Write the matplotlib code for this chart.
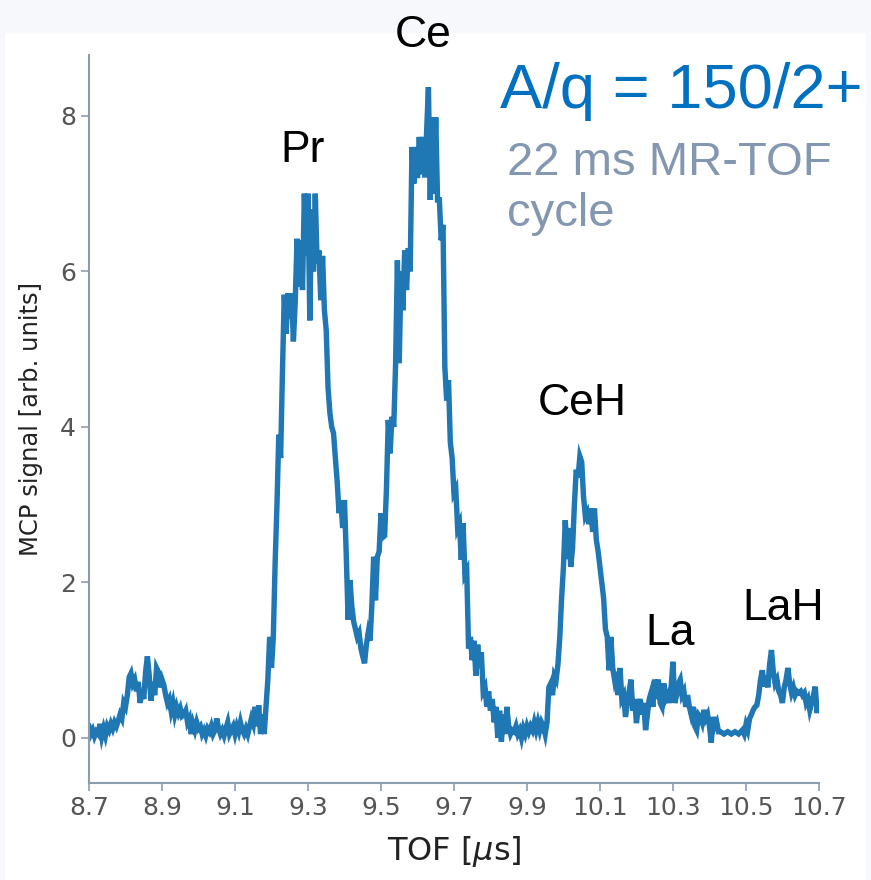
import numpy as np
import matplotlib
matplotlib.use("Agg")
from matplotlib import pyplot as plt
from matplotlib.patches import Rectangle

# TOF in microseconds and MCP signal
tof = [
    8.700, 8.705, 8.710, 8.715, 8.720, 8.725, 8.730, 8.735, 8.740, 8.745,
    8.750, 8.755, 8.760, 8.765, 8.770, 8.775, 8.780, 8.785, 8.790, 8.795,
    8.800, 8.805, 8.810, 8.815, 8.820, 8.825, 8.830, 8.835, 8.840, 8.845,
    8.850, 8.855, 8.860, 8.865, 8.870, 8.875, 8.880, 8.885, 8.890, 8.895,
    8.900, 8.905, 8.910, 8.915, 8.920, 8.925, 8.930, 8.935, 8.940, 8.945,
    8.950, 8.955, 8.960, 8.965, 8.970, 8.975, 8.980, 8.985, 8.990, 8.995,
    9.000, 9.005, 9.010, 9.015, 9.020, 9.025, 9.030, 9.035, 9.040, 9.045,
    9.050, 9.055, 9.060, 9.065, 9.070, 9.075, 9.080, 9.085, 9.090, 9.095,
    9.100, 9.105, 9.110, 9.115, 9.120, 9.125, 9.130, 9.135, 9.140, 9.145,
    9.150, 9.155, 9.160, 9.165, 9.170, 9.175, 9.180, 9.185, 9.190, 9.195,
    9.200, 9.205, 9.210, 9.215, 9.220, 9.225, 9.230, 9.235, 9.240, 9.245,
    9.250, 9.255, 9.260, 9.265, 9.270, 9.275, 9.280, 9.285, 9.290, 9.295,
    9.300, 9.305, 9.310, 9.315, 9.320, 9.325, 9.330, 9.335, 9.340, 9.345,
    9.350, 9.355, 9.360, 9.365, 9.370, 9.375, 9.380, 9.385, 9.390, 9.395,
    9.400, 9.405, 9.410, 9.415, 9.420, 9.425, 9.430, 9.435, 9.440, 9.445,
    9.450, 9.455, 9.460, 9.465, 9.470, 9.475, 9.480, 9.485, 9.490, 9.495,
    9.500, 9.505, 9.510, 9.515, 9.520, 9.525, 9.530, 9.535, 9.540, 9.545,
    9.550, 9.555, 9.560, 9.565, 9.570, 9.575, 9.580, 9.585, 9.590, 9.595,
    9.600, 9.605, 9.610, 9.615, 9.620, 9.625, 9.630, 9.635, 9.640, 9.645,
    9.650, 9.655, 9.660, 9.665, 9.670, 9.675, 9.680, 9.685, 9.690, 9.695,
    9.700, 9.705, 9.710, 9.715, 9.720, 9.725, 9.730, 9.735, 9.740, 9.745,
    9.750, 9.755, 9.760, 9.765, 9.770, 9.775, 9.780, 9.785, 9.790, 9.795,
    9.800, 9.805, 9.810, 9.815, 9.820, 9.825, 9.830, 9.835, 9.840, 9.845,
    9.850, 9.855, 9.860, 9.865, 9.870, 9.875, 9.880, 9.885, 9.890, 9.895,
    9.900, 9.905, 9.910, 9.915, 9.920, 9.925, 9.930, 9.935, 9.940, 9.945,
    9.950, 9.955, 9.960, 9.965, 9.970, 9.975, 9.980, 9.985, 9.990, 9.995,
    10.000, 10.005, 10.010, 10.015, 10.020, 10.025, 10.030, 10.035, 10.040, 10.045,
    10.050, 10.055, 10.060, 10.065, 10.070, 10.075, 10.080, 10.085, 10.090, 10.095,
    10.100, 10.105, 10.110, 10.115, 10.120, 10.125, 10.130, 10.135, 10.140, 10.145,
    10.150, 10.155, 10.160, 10.165, 10.170, 10.175, 10.180, 10.185, 10.190, 10.195,
    10.200, 10.205, 10.210, 10.215, 10.220, 10.225, 10.230, 10.235, 10.240, 10.245,
    10.250, 10.255, 10.260, 10.265, 10.270, 10.275, 10.280, 10.285, 10.290, 10.295,
    10.300, 10.305, 10.310, 10.315, 10.320, 10.325, 10.330, 10.335, 10.340, 10.345,
    10.350, 10.355, 10.360, 10.365, 10.370, 10.375, 10.380, 10.385, 10.390, 10.395,
    10.400, 10.405, 10.410, 10.415, 10.420, 10.425, 10.430, 10.440, 10.450, 10.460,
    10.470, 10.480, 10.490, 10.495, 10.500, 10.505, 10.510, 10.515, 10.520, 10.525,
    10.530, 10.535, 10.540, 10.545, 10.550, 10.555, 10.560, 10.565, 10.570, 10.575,
    10.580, 10.585, 10.590, 10.595, 10.600, 10.605, 10.610, 10.615, 10.620, 10.625,
    10.630, 10.635, 10.640, 10.645, 10.650, 10.655, 10.660, 10.665, 10.670, 10.675,
    10.680, 10.685, 10.690, 10.695, 10.700,
]
signal = [
    0.15, 0.05, 0.10, 0.02, 0.08, 0.05, 0.18, 0.02, 0.12, 0.03,
    0.15, 0.10, 0.18, 0.12, 0.20, 0.15, 0.22, 0.30, 0.25, 0.45,
    0.40, 0.55, 0.78, 0.83, 0.70, 0.75, 0.60, 0.72, 0.45, 0.62,
    0.50, 0.85, 1.05, 0.80, 0.48, 0.72, 0.55, 0.90, 0.85, 0.65,
    0.75, 0.68, 0.55, 0.45, 0.50, 0.35, 0.45, 0.30, 0.40, 0.32,
    0.38, 0.28, 0.30, 0.35, 0.20, 0.25, 0.05, 0.18, 0.10, 0.20,
    0.12, 0.15, 0.05, 0.10, 0.03, 0.12, 0.08, 0.15, 0.05, 0.10,
    0.25, 0.12, 0.05, 0.10, 0.03, 0.12, 0.20, 0.05, 0.10, 0.15,
    0.05, 0.15, 0.08, 0.20, 0.10, 0.05, 0.12, 0.05, 0.15, 0.25,
    0.18, 0.40, 0.15, 0.42, 0.05, 0.30, 0.05, 0.40, 0.75, 1.30,
    0.90, 1.30, 2.25, 3.00, 3.90, 3.60, 4.70, 5.70, 5.20, 5.72,
    5.40, 5.72, 5.10, 5.60, 6.42, 5.80, 6.40, 5.76, 7.00, 6.20,
    7.00, 5.37, 6.80, 6.00, 7.00, 6.10, 6.27, 5.63, 6.20, 5.50,
    5.24, 4.50, 4.18, 4.00, 3.92, 3.60, 3.30, 2.89, 3.05, 2.70,
    3.06, 2.33, 1.52, 2.03, 1.70, 1.50, 1.40, 1.30, 1.35, 1.15,
    1.05, 0.96, 1.20, 1.35, 1.25, 1.70, 2.33, 1.77, 2.33, 2.40,
    2.89, 2.58, 2.60, 3.20, 4.09, 3.66, 4.13, 4.00, 4.80, 6.14,
    4.82, 6.00, 5.50, 6.27, 5.76, 6.30, 6.00, 7.60, 7.13, 7.60,
    7.20, 7.73, 7.25, 7.73, 7.21, 7.80, 8.37, 6.92, 7.98, 7.00,
    7.98, 6.92, 6.92, 6.40, 6.60, 4.77, 4.34, 4.60, 3.80, 3.60,
    3.15, 3.20, 2.70, 2.76, 2.29, 2.76, 2.10, 2.15, 1.15, 1.30,
    1.00, 1.25, 0.80, 1.20, 0.90, 1.10, 0.60, 0.65, 0.40, 0.60,
    0.35, 0.50, 0.20, 0.40, 0.00, 0.35, -0.05, 0.30, 0.05, 0.40,
    0.15, 0.05, 0.10, 0.08, 0.15, 0.05, 0.10, 0.00, 0.12, 0.05,
    0.15, 0.08, 0.15, 0.10, 0.20, 0.10, 0.20, 0.10, 0.20, 0.15,
    0.05, 0.20, 0.65, 0.70, 0.55, 0.80, 0.75, 0.95, 1.30, 1.80,
    2.20, 2.80, 2.30, 2.70, 2.20, 2.45, 3.00, 3.45, 3.35, 3.62,
    3.55, 3.10, 2.85, 2.90, 2.75, 2.95, 2.65, 2.95, 2.55, 2.40,
    2.20, 2.00, 1.80, 1.40, 1.30, 0.87, 1.30, 0.90, 0.75, 0.85,
    0.55, 0.90, 0.50, 0.55, 0.27, 0.45, 0.60, 0.75, 0.35, 0.50,
    0.19, 0.40, 0.50, 0.30, 0.45, 0.10, 0.30, 0.50, 0.58, 0.40,
    0.75, 0.50, 0.75, 0.45, 0.40, 0.70, 0.50, 0.55, 0.45, 0.65,
    0.98, 0.45, 0.55, 0.70, 0.75, 0.55, 0.60, 0.40, 0.55, 0.40,
    0.30, 0.40, 0.15, 0.10, 0.30, 0.27, 0.20, 0.36, 0.25, 0.30,
    0.15, -0.06, 0.27, 0.15, 0.20, 0.08, 0.08, 0.05, 0.08, 0.05,
    0.08, 0.05, 0.10, 0.05, 0.17, 0.10, 0.25, 0.30, 0.36, 0.40,
    0.42, 0.55, 0.75, 0.87, 0.66, 0.80, 0.65, 0.95, 1.13, 0.85,
    0.70, 0.75, 0.60, 0.55, 0.45, 0.65, 0.75, 0.90, 0.70, 0.58,
    0.65, 0.55, 0.60, 0.58, 0.60, 0.55, 0.58, 0.45, 0.50, 0.36,
    0.45, 0.55, 0.66, 0.32, 0.45,
]
xticks = [8.7, 8.9, 9.1, 9.3, 9.5, 9.7, 9.9, 10.1, 10.3, 10.5, 10.7]
yticks = [0, 2, 4, 6, 8]

# peak labels: (text, x centre, baseline) in figure fractions
peak_labels = [
    ("Pr", 0.347, 0.816),
    ("Ce", 0.486, 0.947),
    ("CeH", 0.669, 0.528),
    ("La", 0.769, 0.267),
    ("LaH", 0.899, 0.295),
]

fig = plt.figure(figsize=(8.71, 8.80), dpi=100, facecolor="#f7f8fc")
fig.patches.append(Rectangle((5 / 871, 0), 861 / 871, 1 - 33 / 880,
                             transform=fig.transFigure, facecolor="white",
                             edgecolor="none", zorder=-10))

ax = fig.add_axes([0.1022, 0.1102, 0.838, 0.827])
ax.set_zorder(1)
ax.patch.set_alpha(0)
ax.plot(tof, signal, color="#1f77b4", lw=3.9, solid_joinstyle="miter")

ax.set_xlim(8.7, 10.7)
ax.set_ylim(-0.58, 8.78)
ax.set_xticks(xticks)
ax.set_xticklabels([f"{t:.1f}" for t in xticks])
ax.set_yticks(yticks)

spine_col = "#8d9db0"
for s in ["top", "right"]:
    ax.spines[s].set_visible(False)
for s in ["left", "bottom"]:
    ax.spines[s].set_color(spine_col)
    ax.spines[s].set_linewidth(1.5)
ax.tick_params(colors=spine_col, labelcolor="#555555", labelsize=18,
               length=6, width=1.2)

ax.set_xlabel(r"TOF [$\mu$s]", fontsize=23, color="#222222", labelpad=10)
ax.set_ylabel("MCP signal [arb. units]", fontsize=17.5, color="#222222", labelpad=12)

for name, x, y in peak_labels:
    fig.text(x, y, name, ha="center", va="baseline", fontsize=32,
             family="Liberation Sans", color="black", zorder=5)

fig.text(0.574, 0.877, "A/q = 150/2+", ha="left", va="baseline", fontsize=45.5,
         family="Liberation Sans", color="#0070c0", zorder=5)
fig.text(0.582, 0.801, "22 ms MR-TOF", ha="left", va="baseline", fontsize=34,
         family="Liberation Sans", color="#8497b0", zorder=5)
fig.text(0.582, 0.743, "cycle", ha="left", va="baseline", fontsize=34,
         family="Liberation Sans", color="#8497b0", zorder=5)

plt.savefig("out.png", dpi=100, facecolor=fig.get_facecolor())
